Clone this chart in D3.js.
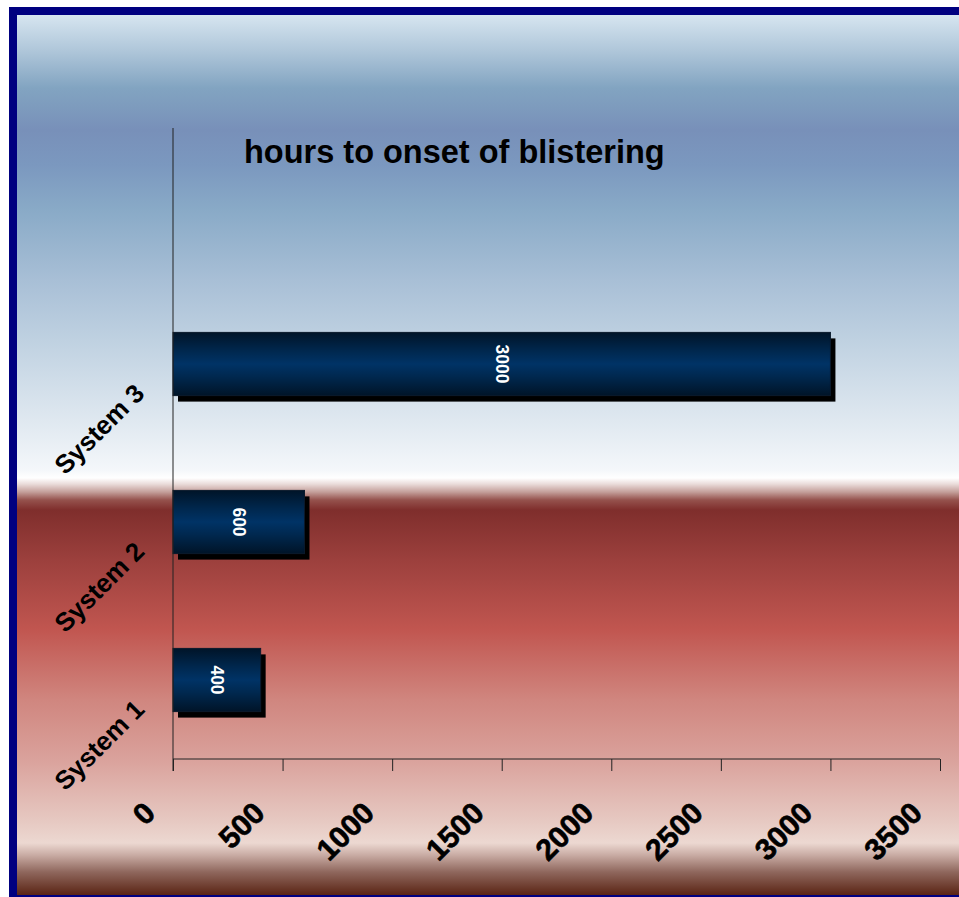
<!DOCTYPE html>
<html>
<head>
<meta charset="utf-8">
<script src="https://cdn.jsdelivr.net/npm/d3@7"></script>
<style>
  body { margin: 0; background: #fff; }
  svg { display: block; }
  text { font-family: Arial, "Liberation Sans", sans-serif; font-weight: bold; }
</style>
</head>
<body>
<svg id="main-svg" width="959" height="897"></svg>
<script>
// chart data
const categories = ['System 1', 'System 2', 'System 3'];
const hours = [400, 600, 3000];
const tickValues = [0, 500, 1000, 1500, 2000, 2500, 3000, 3500];
const title = 'hours to onset of blistering';

const svg = d3.select('#main-svg');
const defs = svg.append('defs');

// background gradient (sky blue -> white -> red -> pale -> brown)
const bgStops = [
    [15, '#d6e5f0'], [50, '#b0c7da'], [88, '#82a4c1'], [130, '#7890b9'],
    [165, '#7b98bf'], [210, '#89aac7'], [280, '#a8bfd6'], [340, '#bfd1e1'],
    [420, '#dfe8f0'], [470, '#f4f7fa'], [478, '#ffffff'], [484, '#eadcda'],
    [492, '#c49f9a'], [500, '#95524d'], [510, '#7f2e2c'], [560, '#9c403d'],
    [630, '#c15650'], [700, '#d0867f'], [760, '#daa29c'], [820, '#e6c8c1'],
    [843, '#ecd8d1'], [855, '#c9aca4'], [872, '#8f675d'], [895, '#5a2414']
];
const bg = defs.append('linearGradient')
    .attr('id', 'bg')
    .attr('gradientUnits', 'userSpaceOnUse')
    .attr('x1', 0).attr('y1', 15).attr('x2', 0).attr('y2', 895);
bg.selectAll('stop').data(bgStops).enter().append('stop')
    .attr('offset', d => (d[0] - 15) / 880)
    .attr('stop-color', d => d[1]);

// bar gradient
const barGrad = defs.append('linearGradient')
    .attr('id', 'bar')
    .attr('x1', 0).attr('y1', 0).attr('x2', 0).attr('y2', 1);
[[0, '#001428'], [0.3, '#00284f'], [0.5, '#003366'], [0.7, '#00284f'], [1, '#001428']]
    .forEach(s => barGrad.append('stop').attr('offset', s[0]).attr('stop-color', s[1]));

// frame
svg.append('rect').attr('x', 9).attr('y', 7).attr('width', 950).attr('height', 890).attr('fill', '#000080');
svg.append('rect').attr('x', 17).attr('y', 15).attr('width', 942).attr('height', 880).attr('fill', 'url(#bg)');

// scales
const x = d3.scaleLinear().domain([0, 3500]).range([173, 940]);
const y = d3.scaleBand()
    .domain(categories.slice().reverse())
    .range([285, 759])
    .paddingInner(0.6)
    .paddingOuter(0.3);

const data = categories.map((c, i) => ({ cat: c, value: hours[i] }));

// title
svg.append('text')
    .attr('x', 244).attr('y', 163)
    .attr('font-size', 32.5)
    .attr('fill', '#000')
    .text(title);

// shadows
svg.selectAll('.shadow')
    .data(data)
    .enter()
    .append('rect')
    .attr('class', 'shadow')
    .attr('x', x(0) + 5)
    .attr('y', d => y(d.cat) + 6)
    .attr('width', d => x(d.value) - x(0))
    .attr('height', y.bandwidth())
    .attr('fill', '#000');

// bars
svg.selectAll('.bar')
    .data(data)
    .enter()
    .append('rect')
    .attr('class', 'bar')
    .attr('x', x(0))
    .attr('y', d => y(d.cat))
    .attr('width', d => x(d.value) - x(0))
    .attr('height', y.bandwidth())
    .attr('fill', 'url(#bar)')
    .attr('stroke', '#0b1a2c')
    .attr('stroke-width', 1);

// value labels, rotated
svg.selectAll('.val')
    .data(data)
    .enter()
    .append('text')
    .attr('class', 'val')
    .attr('transform', d => `translate(${(x(0) + x(d.value)) / 2 - 6}, ${y(d.cat) + y.bandwidth() / 2}) rotate(90)`)
    .attr('text-anchor', 'middle')
    .attr('font-size', 17.5)
    .attr('fill', '#fff')
    .text(d => d.value);

// axes
const xAxis = svg.append('g')
    .attr('transform', 'translate(0, 759)')
    .call(d3.axisBottom(x).tickValues(tickValues).tickSize(12).tickFormat(''));
xAxis.select('.domain').attr('stroke', '#222').attr('d', `M${x(0)},0H${x(3500)}`);
xAxis.selectAll('.tick line').attr('stroke', '#222');

svg.append('line')
    .attr('x1', x(0)).attr('x2', x(0))
    .attr('y1', 128).attr('y2', 771)
    .attr('stroke', '#222');

// tick labels
svg.selectAll('.xlab')
    .data(tickValues)
    .enter()
    .append('text')
    .attr('class', 'xlab')
    .attr('transform', d => `translate(${x(d) - 16}, 815) rotate(-45)`)
    .attr('text-anchor', 'end')
    .attr('font-size', 30)
    .attr('stroke', '#000')
    .attr('stroke-width', 0.6)
    .attr('fill', '#000')
    .text(d => d);

// category labels
svg.selectAll('.ylab')
    .data(categories)
    .enter()
    .append('text')
    .attr('class', 'ylab')
    .attr('transform', d => `translate(146, ${y(d) + y.bandwidth() / 2 + 31}) rotate(-45)`)
    .attr('text-anchor', 'end')
    .attr('font-size', 26)
    .attr('fill', '#000')
    .text(d => d);
</script>
</body>
</html>
